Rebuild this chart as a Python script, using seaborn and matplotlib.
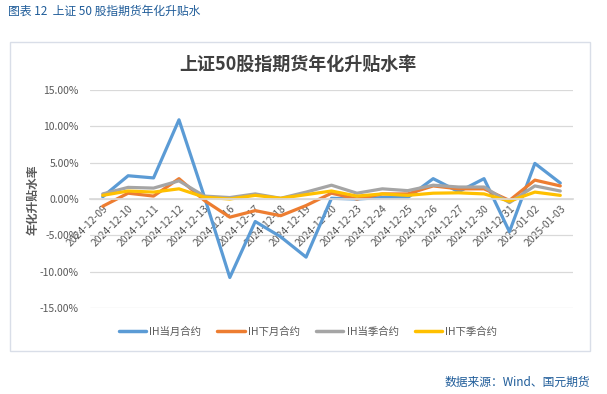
import numpy as np
import pandas as pd
import matplotlib
matplotlib.use("Agg")
import matplotlib.pyplot as plt
from matplotlib.patches import Rectangle
from matplotlib.lines import Line2D
import seaborn as sns

sns.set_theme(style="white")
plt.rcParams["font.family"] = ["Noto Sans CJK SC", "DejaVu Sans"]
plt.rcParams["axes.unicode_minus"] = False

# 数据（单位：%）
dates = ["2024-12-09", "2024-12-10", "2024-12-11", "2024-12-12", "2024-12-13",
         "2024-12-16", "2024-12-17", "2024-12-18", "2024-12-19", "2024-12-20",
         "2024-12-23", "2024-12-24", "2024-12-25", "2024-12-26", "2024-12-27",
         "2024-12-30", "2024-12-31", "2025-01-02", "2025-01-03"]
ih_cur_month = [0.3, 3.2, 2.9, 10.9, 0.3, -10.8, -3.1, -5.2, -8.0, 0.1,
                0.0, 0.2, 0.2, 2.8, 1.0, 2.8, -4.5, 4.9, 2.2]
ih_next_month = [-1.0, 0.8, 0.4, 2.8, -0.2, -2.5, -1.6, -2.3, -0.9, 0.8,
                 0.0, 0.7, 0.7, 1.8, 1.4, 1.4, -0.2, 2.6, 1.8]
ih_cur_season = [0.7, 1.6, 1.5, 2.5, 0.4, 0.2, 0.7, 0.1, 0.95, 1.9,
                 0.8, 1.4, 1.15, 1.9, 1.65, 1.65, -0.5, 1.8, 1.1]
ih_next_season = [0.5, 1.1, 0.95, 1.4, 0.25, 0.0, 0.5, 0.1, 0.6, 1.1,
                  0.4, 0.7, 0.5, 0.8, 0.85, 0.7, -0.3, 0.95, 0.5]
names = ["IH当月合约", "IH下月合约", "IH当季合约", "IH下季合约"]
colors = ["#5B9BD5", "#ED7D31", "#A5A5A5", "#FFC000"]

series = [ih_cur_month, ih_next_month, ih_cur_season, ih_next_season]
df = pd.concat([pd.DataFrame({"日期": dates, "值": v, "合约": n})
                for n, v in zip(names, series)], ignore_index=True)
df["pos"] = df["日期"].map({d: i for i, d in enumerate(dates)})

W, H = 607, 394
fig = plt.figure(figsize=(W / 100, H / 100), dpi=100)

# 外框
fig.patches.append(Rectangle((10 / W, 1 - 351 / H), 580 / W, 309 / H,
                             transform=fig.transFigure, fill=False,
                             edgecolor="#D9DEE8", lw=1.0))

ax = fig.add_axes([90 / W, 1 - 308 / H, 483 / W, 218 / H])
sns.lineplot(data=df, x="pos", y="值", hue="合约", hue_order=names,
             palette=colors, lw=2.3, legend=False, ax=ax, sort=False)

ax.set_xlim(-0.5, len(dates) - 0.5)
ax.set_ylim(-15, 15)
ax.set_yticks(np.arange(-15, 16, 5))
ax.set_yticklabels([f"{v:.2f}%" for v in np.arange(-15, 16, 5)],
                   fontsize=7.5, color="#595959")
ax.yaxis.grid(True, color="#D9D9D9", lw=0.9)
ax.set_axisbelow(True)
for s in ["top", "right", "left"]:
    ax.spines[s].set_visible(False)
ax.spines["bottom"].set_position(("data", 0))
ax.spines["bottom"].set_color("#D9D9D9")
ax.set_xticks(range(len(dates)))
ax.set_xticklabels(dates, rotation=45, ha="right", rotation_mode="anchor",
                   fontsize=7.5, color="#595959")
ax.set_xticks(np.arange(-0.5, len(dates)), minor=True)
ax.tick_params(axis="x", which="major", length=0, pad=3)
ax.tick_params(axis="x", which="minor", length=4, color="#D9D9D9", direction="out")
ax.tick_params(axis="y", length=0, pad=8)
ax.set_xlabel("")
ax.set_ylabel("")

fig.text(33 / W, 1 - 200 / H, "年化升贴水率", rotation=90, ha="center", va="center",
         fontsize=8.5, fontweight="bold", color="#595959")
fig.text(298 / W, 1 - 64 / H, "上证50股指期货年化升贴水率", ha="center", va="center",
         fontsize=13, fontweight="bold", color="#404040")
fig.text(8 / W, 1 - 11 / H, "图表 12  上证 50 股指期货年化升贴水", ha="left", va="center",
         fontsize=8.5, color="#1F5C99")
fig.text(590 / W, 1 - 382 / H, "数据来源：Wind、国元期货", ha="right", va="center",
         fontsize=8.5, color="#1F5C99")

handles = [Line2D([0], [0], color=c, lw=2.5) for c in colors]
fig.legend(handles, names, loc="center", bbox_to_anchor=(308 / W, 1 - 332 / H),
           ncol=4, frameon=False, fontsize=7.5, handlelength=2.6,
           handletextpad=0.3, columnspacing=1.6, labelcolor="#595959")

fig.savefig("out.png", dpi=100)
